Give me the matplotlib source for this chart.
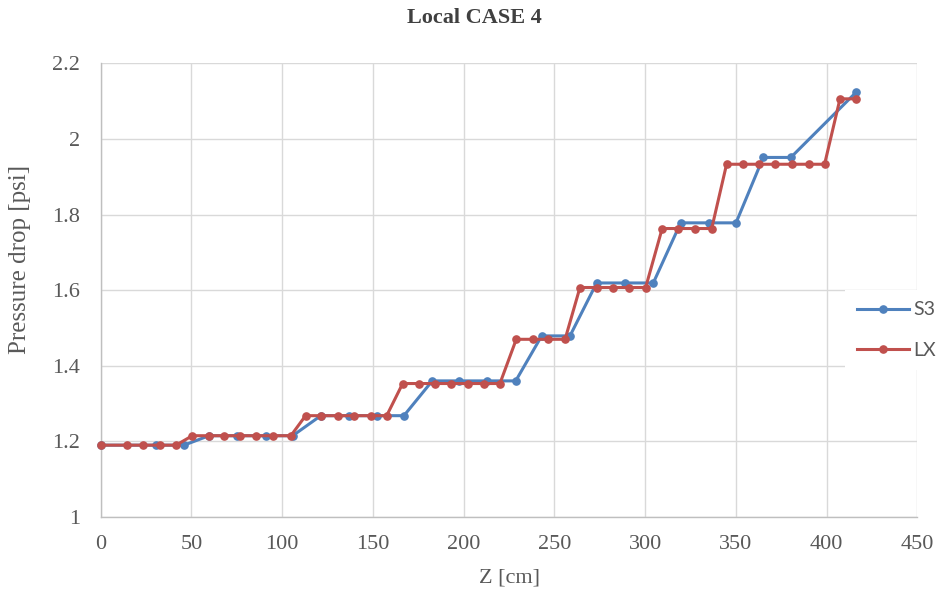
import matplotlib
matplotlib.use("Agg")
import matplotlib.pyplot as plt
from matplotlib.lines import Line2D

# Pressure drop along the test section, series S3
s3_z = [0, 30.3, 45.9, 59.7, 75.3, 90.9, 105.8, 121.3, 136.8, 152.1, 167.1,
        182.7, 197.4, 212.8, 228.7, 243.0, 258.6, 273.3, 288.9, 304.5,
        319.6, 335.2, 350.1, 365.1, 380.3, 416.2]
s3_p = [1.19, 1.19, 1.19, 1.215, 1.215, 1.215, 1.215, 1.268, 1.268, 1.268, 1.268,
        1.36, 1.36, 1.36, 1.36, 1.479, 1.479, 1.619, 1.619, 1.619,
        1.778, 1.778, 1.778, 1.951, 1.951, 2.123]

# Pressure drop along the test section, series LX
lx_z = [0, 14.7, 23.5, 32.7, 41.5, 50.5, 59.7, 68.1, 76.8, 85.6, 95.1, 104.8,
        112.9, 121.3, 130.9, 139.6, 148.8, 157.6, 166.4, 175.6, 184.2, 193.0,
        202.6, 211.2, 220.0, 229.0, 238.0, 246.7, 255.9, 264.1, 273.3, 282.5,
        291.3, 300.3, 309.4, 318.3, 327.5, 336.7, 344.9, 354.1, 362.9, 371.6,
        380.8, 390.3, 398.9, 407.4, 416.2]
lx_p = [1.19, 1.19, 1.19, 1.19, 1.19, 1.215, 1.215, 1.215, 1.215, 1.215, 1.215, 1.215,
        1.268, 1.268, 1.268, 1.268, 1.268, 1.268, 1.353, 1.353, 1.353, 1.353,
        1.353, 1.353, 1.353, 1.47, 1.47, 1.47, 1.47, 1.607, 1.607, 1.607,
        1.607, 1.607, 1.763, 1.763, 1.763, 1.763, 1.933, 1.933, 1.933, 1.933,
        1.933, 1.933, 1.933, 2.106, 2.106]

x_ticks = [0, 50, 100, 150, 200, 250, 300, 350, 400, 450]
y_ticks = [1, 1.2, 1.4, 1.6, 1.8, 2, 2.2]
y_tick_labels = ["1", "1.2", "1.4", "1.6", "1.8", "2", "2.2"]

BLUE = "#4F81BD"
RED = "#C0504D"
GRID = "#D9D9D9"
TEXT = "#595959"
SERIF = "Liberation Serif"

W, H = 948, 596
fig = plt.figure(figsize=(W / 100, H / 100), dpi=100)
ax = fig.add_axes([100.7 / W, 1 - 517 / H, (917.3 - 100.7) / W, (517 - 63.3) / H])

ax.plot(s3_z, s3_p, color=BLUE, lw=2.2, marker="o", ms=5.2, zorder=3, clip_on=False)
ax.plot(lx_z, lx_p, color=RED, lw=2.2, marker="o", ms=5.2, zorder=4, clip_on=False)

ax.set_xlim(0, 450)
ax.set_ylim(1, 2.2)
ax.set_xticks(x_ticks)
ax.set_yticks(y_ticks)
ax.set_yticklabels(y_tick_labels)
ax.grid(True, color=GRID, lw=1.0, zorder=0)
ax.set_axisbelow(True)
for side in ("top", "right"):
    ax.spines[side].set_visible(False)
for side in ("left", "bottom"):
    ax.spines[side].set_color("#BFBFBF")
    ax.spines[side].set_linewidth(1.0)
ax.tick_params(axis="both", length=0, labelcolor=TEXT, labelsize=16)
ax.tick_params(axis="x", pad=13)
ax.tick_params(axis="y", pad=15)
for lab in ax.get_xticklabels() + ax.get_yticklabels():
    lab.set_fontfamily(SERIF)

fig.text(474 / W, 1 - 18 / H, "Local CASE 4", ha="center", va="center",
         fontfamily=SERIF, fontweight="bold", fontsize=16, color="#404040")
fig.text(509 / W, 1 - 578 / H, "Z [cm]", ha="center", va="center",
         fontfamily=SERIF, fontsize=16, color=TEXT)
fig.text(20 / W, 1 - 259 / H, "Pressure drop [psi]", ha="center", va="center",
         rotation=90, fontfamily=SERIF, fontsize=18, color=TEXT)

handles = [Line2D([], [], color=BLUE, lw=2.2, marker="o", ms=5.2),
           Line2D([], [], color=RED, lw=2.2, marker="o", ms=5.2)]
leg = fig.legend(handles, ["S3", "LX"], loc="center left",
                 bbox_to_anchor=(845 / W, 1 - 330 / H), frameon=True,
                 prop={"family": "Lato", "size": 14}, labelcolor=TEXT,
                 handlelength=2.7, labelspacing=1.2, handletextpad=0.2,
                 borderpad=0.6, borderaxespad=0.0, markerscale=1.0)
leg.get_frame().set_facecolor("white")
leg.get_frame().set_edgecolor("none")
leg.get_frame().set_alpha(1.0)
leg.get_frame().set_boxstyle("square", pad=0)
leg.set_zorder(10)

fig.savefig("out.png", dpi=100, facecolor="white")
